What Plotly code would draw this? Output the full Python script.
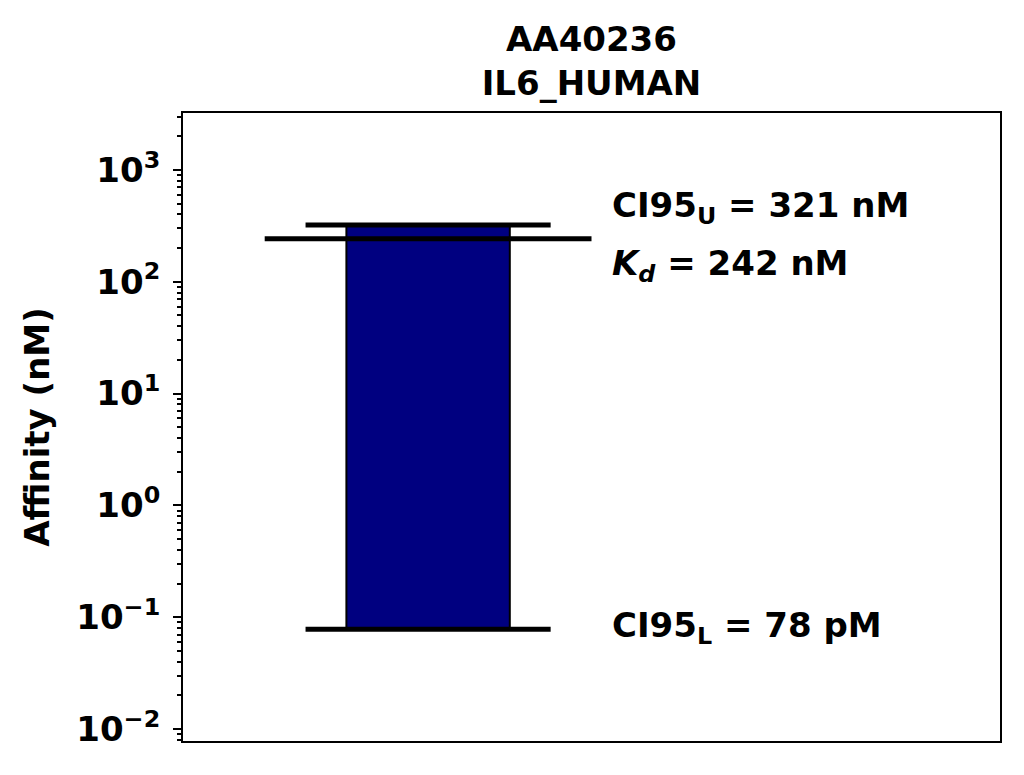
import math
import plotly.graph_objects as go

# data
title_lines = ["AA40236", "IL6_HUMAN"]
kd_nM = 242
ci95_low_nM = 0.078
ci95_high_nM = 321
tick_vals = [0.01, 0.1, 1, 10, 100, 1000]
tick_text = ["10<sup>\u22122</sup>", "10<sup>\u22121</sup>", "10<sup>0</sup>",
             "10<sup>1</sup>", "10<sup>2</sup>", "10<sup>3</sup>"]

FONT = "DejaVu Sans"
FS = 34
bar_x = 0.3

minor_vals = [k * 10.0 ** e for e in range(-3, 4) for k in range(2, 10)]

fig = go.Figure()
fig.add_trace(go.Bar(
    x=[bar_x], y=[ci95_high_nM - ci95_low_nM], base=[ci95_low_nM], width=0.2,
    marker=dict(color="#000080", line=dict(color="black", width=2)),
    showlegend=False, hoverinfo="skip"))

for val, half in [(ci95_high_nM, 0.15), (kd_nM, 0.2), (ci95_low_nM, 0.15)]:
    fig.add_trace(go.Scatter(
        x=[bar_x - half, bar_x + half], y=[val, val], mode="lines",
        line=dict(color="black", width=5), showlegend=False, hoverinfo="skip"))

ann_font = dict(family=FONT, size=FS, color="black", weight="bold")
labels = [
    ("CI95<sub>U</sub> = %d nM" % round(ci95_high_nM), 460),
    ("<i>K<sub>d</sub></i> = %d nM" % round(kd_nM), 139),
    ("CI95<sub>L</sub> = %d pM" % round(ci95_low_nM * 1000), 0.081),
]
for txt, ypos in labels:
    fig.add_annotation(x=0.5226, y=math.log10(ypos), xref="x", yref="y",
                       text=txt, showarrow=False, xanchor="left", yanchor="middle",
                       font=ann_font)

fig.update_layout(
    width=1010, height=762,
    margin=dict(l=175, r=18, t=105, b=29),
    paper_bgcolor="white", plot_bgcolor="white",
    title=dict(text="<br>".join(title_lines),
               x=0.5777, xanchor="center", y=0.944, yanchor="middle",
               font=dict(family=FONT, size=FS, color="black", weight="bold")),
    xaxis=dict(range=[0, 1], showticklabels=False, ticks="", showgrid=False,
               zeroline=False, showline=True, mirror=True, linecolor="black",
               linewidth=2),
    yaxis=dict(type="log", range=[-2.107, 3.509], tickvals=tick_vals,
               ticktext=tick_text, ticks="outside", ticklen=8, tickwidth=2,
               tickcolor="black", showgrid=False, zeroline=False, showline=True,
               mirror=True, linecolor="black", linewidth=2,
               ticklabelstandoff=6,
               tickfont=dict(family=FONT, size=FS, color="black", weight="bold"),
               minor=dict(tickmode="array", tickvals=minor_vals, ticks="outside",
                          ticklen=4, tickwidth=1.5, tickcolor="black",
                          showgrid=False),
               title=dict(text="Affinity (nM)", standoff=16,
                          font=dict(family=FONT, size=FS, color="black",
                                    weight="bold"))),
    font=dict(family=FONT),
)

fig.write_html("out.html")
